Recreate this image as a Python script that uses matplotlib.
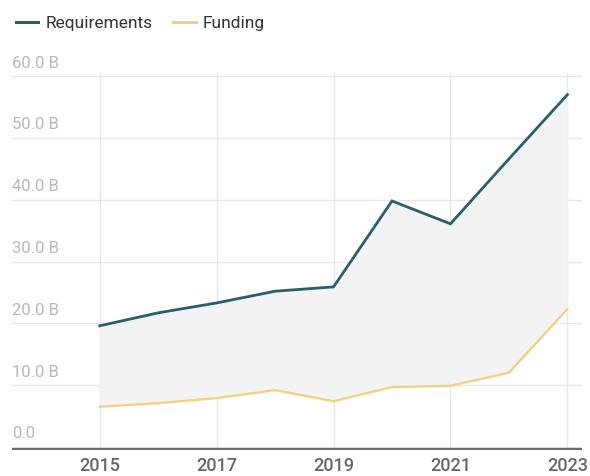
"""Requirements vs funding line chart, 2015-2023."""

import matplotlib.pyplot as plt
from matplotlib.lines import Line2D

plt.rcParams["font.family"] = ["Roboto", "DejaVu Sans"]

years = [2015, 2016, 2017, 2018, 2019, 2020, 2021, 2022, 2023]
requirements = [19.6, 21.7, 23.3, 25.2, 25.9, 39.8, 36.1, 46.6, 57.0]
funding = [6.5, 7.1, 7.9, 9.2, 7.4, 9.7, 9.9, 12.0, 22.3]
y_ticks = [0, 10, 20, 30, 40, 50, 60]
x_ticks = [2015, 2017, 2019, 2021, 2023]

REQ_COLOR = "#2b5e6b"
FUND_COLOR = "#f4cf7c"
GRID_COLOR = "#e8e8e8"

fig = plt.figure(figsize=(5.9, 4.76), dpi=100)
ax = fig.add_axes([12 / 590, 26 / 476, 570 / 590, 377 / 476])

ax.fill_between(years, funding, requirements, color="#f3f3f3", lw=0, zorder=1)
ax.plot(years, requirements, color=REQ_COLOR, lw=2.0, zorder=3, solid_joinstyle="miter")
ax.plot(years, funding, color=FUND_COLOR, lw=1.6, zorder=3)

ax.set_xlim(2013.5, 2023.25)
ax.set_ylim(-0.49, 60.5)

for y in y_ticks[1:]:
    ax.axhline(y, color=GRID_COLOR, lw=1, zorder=0)
for x in x_ticks:
    ax.axvline(x, color=GRID_COLOR, lw=1, zorder=0)
ax.axhline(-0.3, color="#6b6b6b", lw=2.5, zorder=4)

for y in y_ticks:
    label = "0.0" if y == 0 else f"{y:.1f} B"
    ax.text(0.0, y + 0.9, label, transform=ax.get_yaxis_transform(),
            ha="left", va="bottom", fontsize=12, color="#b8b8b8")

ax.set_xticks(x_ticks)
ax.set_xticklabels([str(x) for x in x_ticks], fontsize=13, color="#666666",
                   fontweight="medium")
ax.tick_params(axis="x", length=0, pad=5)
ax.set_yticks([])
for spine in ax.spines.values():
    spine.set_visible(False)

handles = [Line2D([], [], color=REQ_COLOR, lw=2.2),
           Line2D([], [], color=FUND_COLOR, lw=2.2)]
fig.legend(handles, ["Requirements", "Funding"], loc="upper left",
           bbox_to_anchor=(0.0, 1.0), ncol=2, frameon=False, fontsize=12.5,
           handlelength=1.3, handletextpad=0.4, columnspacing=1.2,
           labelcolor="#333333")

fig.savefig("out.png", dpi=100)
